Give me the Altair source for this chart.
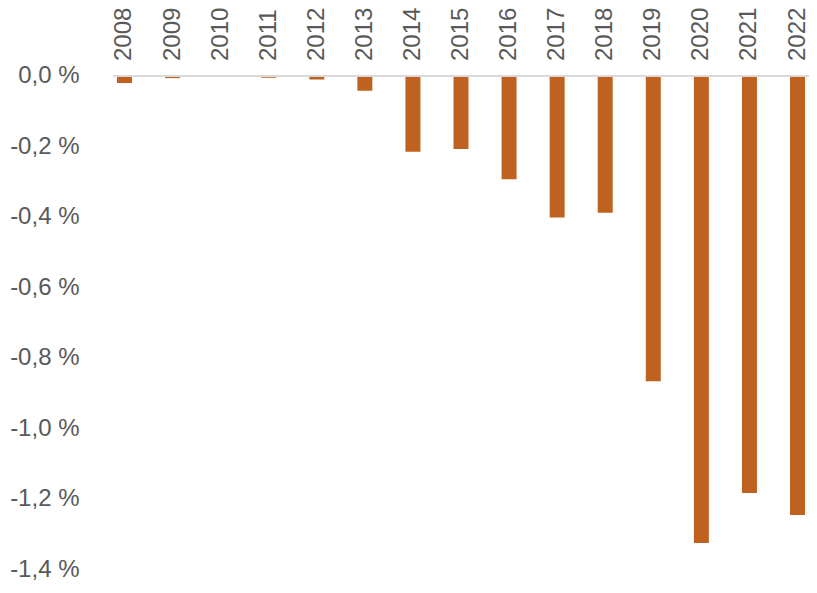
import altair as alt
import pandas as pd

years = ["2008", "2009", "2010", "2011", "2012", "2013", "2014", "2015",
         "2016", "2017", "2018", "2019", "2020", "2021", "2022"]
values = [-0.020, -0.006, 0.0, -0.005, -0.010, -0.042, -0.215, -0.207,
          -0.293, -0.402, -0.388, -0.867, -1.326, -1.184, -1.247]
tick_values = [0.0, -0.2, -0.4, -0.6, -0.8, -1.0, -1.2, -1.4]

df = pd.DataFrame({"year": years, "value": values, "zero": [0.0] * len(years)})

FONT = "Liberation Sans"
TEXT = "#595959"
BAR = "#C0621F"

x_scale = alt.Scale(domain=years, paddingInner=0.688, paddingOuter=0.083)
y_scale = alt.Scale(domain=[-1.4, 0.1931], nice=False, zero=False)

base = alt.Chart(df)

bars = base.mark_bar(color=BAR).encode(
    x=alt.X("year:N", scale=x_scale, axis=None, sort=years),
    y=alt.Y(
        "value:Q",
        scale=y_scale,
        title=None,
        axis=alt.Axis(
            values=tick_values,
            grid=False,
            domain=False,
            ticks=False,
            labelFont=FONT,
            labelFontSize=24,
            labelColor=TEXT,
            labelPadding=34,
            labelExpr="(datum.value < -0.0001 ? '-' : '') + replace(format(abs(datum.value), '.1f'), '.', ',') + ' %'",
        ),
    ),
    y2="zero:Q",
)

zero_line = base.mark_rule(color="#D9D9D9", strokeWidth=1.5).encode(
    y=alt.Y("zero:Q", scale=y_scale)
)

labels = base.mark_text(
    angle=270, align="left", baseline="middle", dx=15,
    font=FONT, fontSize=24, color=TEXT,
).encode(
    x=alt.X("year:N", scale=x_scale, axis=None, sort=years),
    y=alt.Y("zero:Q", scale=y_scale),
    text="year:N",
)

chart = alt.layer(bars, zero_line, labels).properties(
    width=696,
    height=561,
    autosize=alt.AutoSizeParams(type="none"),
    padding={"left": 105, "top": 0, "right": 0, "bottom": 12},
).configure_view(stroke=None)

chart.save("out.html", embed_options={"renderer": "svg", "actions": False})
